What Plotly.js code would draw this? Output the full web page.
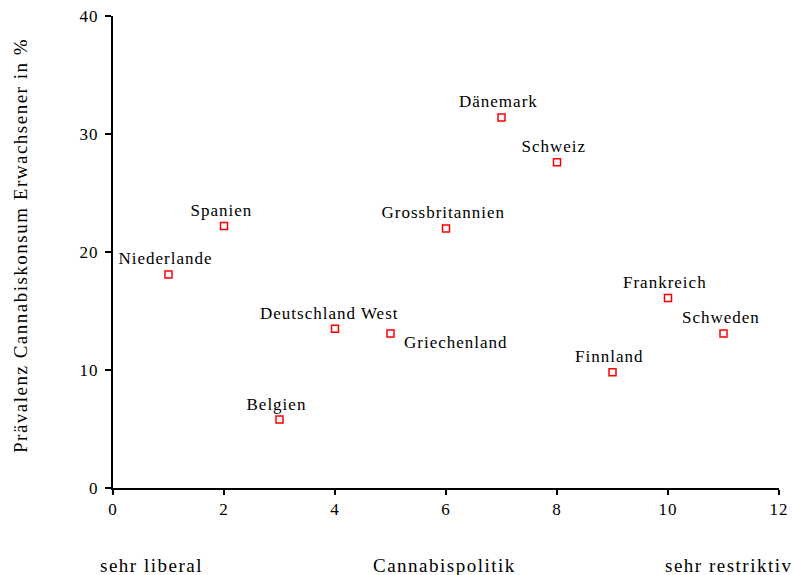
<!DOCTYPE html>
<html><head><meta charset="utf-8">
<script src="https://cdn.plot.ly/plotly-3.0.1.min.js"></script>
<style>html,body{margin:0;padding:0;background:#fff}#chart{width:793px;height:575px}
#chart svg text{letter-spacing:1px}</style>
</head><body><div id="chart"></div>
<script>
const countries = ["Niederlande","Spanien","Belgien","Deutschland West","Griechenland","Grossbritannien","Dänemark","Schweiz","Finnland","Frankreich","Schweden"];
const policy = [1,2,3,4,5,6,7,8,9,10,11];
const prevalence = [18.1,22.2,5.8,13.5,13.1,22.0,31.4,27.6,9.8,16.1,13.1];
const xTicks = [0,2,4,6,8,10,12];
const yTicks = [0,10,20,30,40];
const yTitle = "Prävalenz Cannabiskonsum Erwachsener in %";
const xTitle = "Cannabispolitik";
const xLeftLabel = "sehr liberal";
const xRightLabel = "sehr restriktiv";
const FONT = "Liberation Serif, Times New Roman, serif";

const trace = {
  x: policy, y: prevalence, mode: "markers", type: "scatter",
  marker: {symbol: "square-open", size: 7, color: "#ff0000", line: {width: 1.5, color: "#ff0000"}},
  hoverinfo: "skip"
};

const annotations = countries.map((c, i) => {
  const below = c === "Griechenland";
  return {
    x: policy[i], y: prevalence[i], xref: "x", yref: "y", text: c, showarrow: false,
    xanchor: below ? "left" : "center", yanchor: below ? "middle" : "bottom",
    xshift: below ? 17 : (c === "Deutschland West" ? -6 : -3), yshift: below ? -9 : 4,
    font: {family: FONT, size: 17, color: "#000"}
  };
});
// plot area in pixels: x 113..779, y 16..488
const px = v => (v - 113) / (779 - 113);
const py = v => 1 - (v - 16) / (488 - 16);
const wide = t => '<span style="letter-spacing:1.5px">' + t + '</span>';
[[xLeftLabel, 151, 565], [xTitle, 444, 565], [xRightLabel, 729, 565]].forEach(([t, x, y]) => {
  annotations.push({x: px(x), y: py(y), xref: "paper", yref: "paper", text: wide(t), showarrow: false,
    xanchor: "center", yanchor: "middle", font: {family: FONT, size: 19, color: "#000"}});
});
annotations.push({x: px(20), y: py(246), xref: "paper", yref: "paper", text: wide(yTitle), showarrow: false,
  textangle: -90, xanchor: "center", yanchor: "middle", font: {family: FONT, size: 19, color: "#000"}});

const layout = {
  width: 793, height: 575,
  margin: {l: 113, r: 14, t: 16, b: 87},
  paper_bgcolor: "#fff", plot_bgcolor: "#fff",
  showlegend: false,
  font: {family: FONT, size: 17, color: "#000"},
  xaxis: {
    range: [0, 12], tickvals: xTicks, ticktext: xTicks.map(String),
    showgrid: false, zeroline: false, showline: true, linewidth: 2, linecolor: "#000",
    ticks: "outside", ticklen: 5, tickwidth: 1.5, tickcolor: "#000",
    tickfont: {family: FONT, size: 17}, fixedrange: true
  },
  yaxis: {
    range: [0, 40], tickvals: yTicks, ticktext: yTicks.map(String),
    showgrid: false, zeroline: false, showline: true, linewidth: 2, linecolor: "#000",
    ticks: "outside", ticklen: 6, tickwidth: 1.5, tickcolor: "#000",
    tickfont: {family: FONT, size: 17}, ticklabelstandoff: 3,
    fixedrange: true
  },
  annotations: annotations
};
Plotly.newPlot("chart", [trace], layout, {displayModeBar: false, staticPlot: true});
</script></body></html>
